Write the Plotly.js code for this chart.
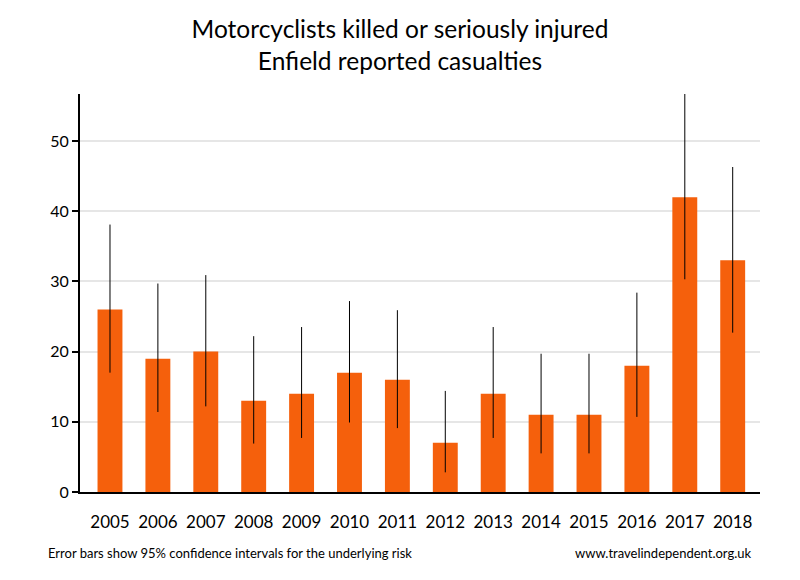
<!DOCTYPE html>
<html>
<head>
<meta charset="utf-8">
<script src="https://cdn.plot.ly/plotly-3.0.1.min.js"></script>
<style>html,body{margin:0;padding:0;background:#fff}#chart{width:800px;height:580px}</style>
</head>
<body>
<div id="chart"></div>
<script>
const years = ["2005","2006","2007","2008","2009","2010","2011","2012","2013","2014","2015","2016","2017","2018"];
const casualties = [26,19,20,13,14,17,16,7,14,11,11,18,42,33];
const upperCI = [38.1,29.7,30.9,22.2,23.5,27.2,25.9,14.4,23.5,19.7,19.7,28.4,56.8,46.3];
const lowerCI = [17.0,11.4,12.2,6.9,7.7,9.9,9.1,2.8,7.7,5.5,5.5,10.7,30.3,22.7];

const errPlus = casualties.map((v,i)=>upperCI[i]-v);
const errMinus = casualties.map((v,i)=>v-lowerCI[i]);

const font = "Lato, 'Open Sans', sans-serif";

const trace = {
  type: 'bar',
  x: years,
  y: casualties,
  marker: {color: '#f5600c'},
  error_y: {type:'data', array: errPlus, arrayminus: errMinus, visible:true, color:'#000', thickness:1, width:0},
  hoverinfo: 'none'
};

const layout = {
  width: 800, height: 580,
  margin: {l:80, r:40, t:94, b:88},
  paper_bgcolor:'#fff', plot_bgcolor:'#fff',
  showlegend:false,
  bargap: 0.48,
  font: {family: font, color:'#000'},
  title: {text: 'Motorcyclists killed or seriously injured<br>Enfield reported casualties', x:0.5, xanchor:'center', y:0.935, yanchor:'top', font:{size:24.5, family:font, color:'#000'}},
  xaxis: {
    type:'category', range:[-0.626, 13.57],
    showline:true, linecolor:'#000', linewidth:2,
    ticks:'', showgrid:false, zeroline:false,
    tickfont:{size:17, family:font, color:'#000'},
    ticklabelstandoff: 14
  },
  yaxis: {
    range:[0,56.7], tickvals:[0,10,20,30,40,50],
    showline:true, linecolor:'#000', linewidth:2,
    ticks:'outside', ticklen:6, tickwidth:2, tickcolor:'#000',
    showgrid:true, gridcolor:'#e6e6e6', gridwidth:2, zeroline:false,
    tickfont:{size:16, family:font, color:'#000'}
  },
  annotations: [
    {text:'Error bars show 95% confidence intervals for the underlying risk', xref:'paper', yref:'paper', x:-0.05, y:-0.153, xanchor:'left', yanchor:'middle', showarrow:false, font:{size:13, family:font, color:'#000'}},
    {text:'www.travelindependent.org.uk', xref:'paper', yref:'paper', x:0.99, y:-0.153, xanchor:'right', yanchor:'middle', showarrow:false, font:{size:13, family:font, color:'#000'}}
  ]
};

Plotly.newPlot('chart', [trace], layout, {displayModeBar:false, staticPlot:true});
</script>
</body>
</html>
